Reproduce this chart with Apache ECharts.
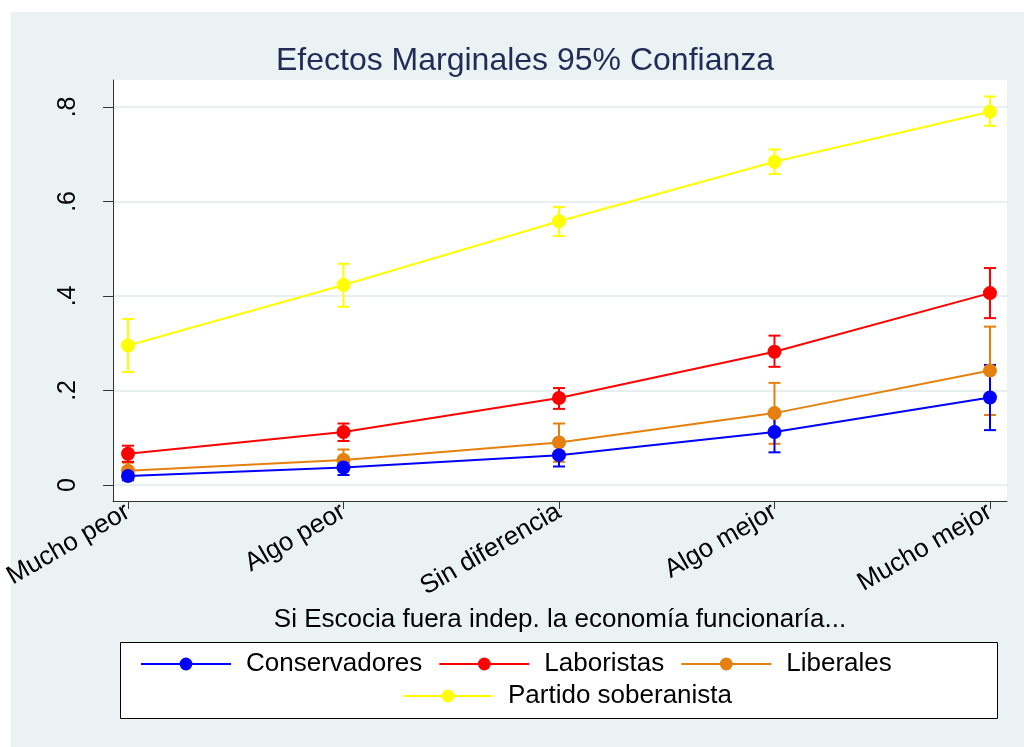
<!DOCTYPE html>
<html>
<head>
<meta charset="utf-8">
<script src="https://cdn.jsdelivr.net/npm/echarts@6/dist/echarts.min.js"></script>
<style>
html,body{margin:0;padding:0;background:#ffffff;}
#chart{width:1024px;height:747px;}
</style>
</head>
<body>
<div id="chart"></div>
<script>
const categories = ['Mucho peor', 'Algo peor', 'Sin diferencia', 'Algo mejor', 'Mucho mejor'];
const yTicks = [0, 0.2, 0.4, 0.6, 0.8];
const xTicks = [0, 1, 2, 3, 4];

const seriesNames = ['Conservadores', 'Laboristas', 'Liberales', 'Partido soberanista'];

const conservadores   = [0.019, 0.037, 0.063, 0.112, 0.185];
const conservadoresLo = [0.010, 0.021, 0.039, 0.069, 0.116];
const conservadoresHi = [0.028, 0.052, 0.087, 0.154, 0.254];

const laboristas   = [0.066, 0.112, 0.184, 0.282, 0.406];
const laboristasLo = [0.049, 0.093, 0.161, 0.250, 0.353];
const laboristasHi = [0.083, 0.130, 0.205, 0.316, 0.459];

const liberales   = [0.030, 0.053, 0.090, 0.152, 0.242];
const liberalesLo = [0.013, 0.032, 0.049, 0.087, 0.148];
const liberalesHi = [0.047, 0.075, 0.130, 0.216, 0.335];

const soberanista   = [0.295, 0.423, 0.558, 0.684, 0.790];
const soberanistaLo = [0.239, 0.377, 0.527, 0.658, 0.760];
const soberanistaHi = [0.351, 0.468, 0.588, 0.710, 0.822];

const colors = ['#0000ff', '#ff0000', '#e5800e', '#ffff00'];
const FONT = '"Liberation Sans", Arial, sans-serif';

const groups = [
  {name: seriesNames[0], v: conservadores, lo: conservadoresLo, hi: conservadoresHi, color: colors[0]},
  {name: seriesNames[1], v: laboristas, lo: laboristasLo, hi: laboristasHi, color: colors[1]},
  {name: seriesNames[2], v: liberales, lo: liberalesLo, hi: liberalesHi, color: colors[2]},
  {name: seriesNames[3], v: soberanista, lo: soberanistaLo, hi: soberanistaHi, color: colors[3]}
];

function errRender(color) {
  return function (params, api) {
    const x = api.value(0);
    const pLo = api.coord([x, api.value(1)]);
    const pHi = api.coord([x, api.value(2)]);
    const w = 6;
    const st = {stroke: color, lineWidth: 2};
    return {
      type: 'group',
      children: [
        {type: 'line', shape: {x1: pLo[0], y1: pLo[1], x2: pHi[0], y2: pHi[1]}, style: st},
        {type: 'line', shape: {x1: pLo[0] - w, y1: pLo[1], x2: pLo[0] + w, y2: pLo[1]}, style: st},
        {type: 'line', shape: {x1: pHi[0] - w, y1: pHi[1], x2: pHi[0] + w, y2: pHi[1]}, style: st}
      ]
    };
  };
}

const series = [];
groups.slice().reverse().forEach(g => {
  series.push({
    type: 'custom',
    name: g.name + ' IC',
    renderItem: errRender(g.color),
    data: g.lo.map((l, i) => [i, l, g.hi[i]]),
    encode: {x: 0, y: [1, 2]},
    silent: true,
    z: 2
  });
});
groups.slice().reverse().forEach(g => {
  series.push({
    type: 'line',
    name: g.name,
    data: g.v.map((v, i) => [i, v]),
    symbol: 'circle',
    symbolSize: 14,
    showSymbol: true,
    color: g.color,
    itemStyle: {color: g.color},
    lineStyle: {color: g.color, width: 2},
    z: 3,
    animation: false
  });
});

const chart = echarts.init(document.getElementById('chart'), null, {renderer: 'canvas'});

const legendCommon = {
  orient: 'horizontal',
  itemWidth: 90,
  itemHeight: 16,
  itemGap: 16,
  padding: 0,
  textStyle: {fontFamily: FONT, fontSize: 26, color: '#000', padding: [0, 0, 0, 10]},
  selectedMode: false
};

chart.setOption({
  animation: false,
  backgroundColor: '#ffffff',
  graphic: [
    {type: 'rect', z: -10, silent: true, shape: {x: 11, y: 12, width: 1013, height: 735}, style: {fill: '#eaf2f3'}},
    {type: 'text', z: 10, silent: true, style: {x: 525, y: 61, text: 'Efectos Marginales 95% Confianza', textAlign: 'center', textVerticalAlign: 'middle', fontFamily: FONT, fontSize: 32, fill: '#1e2c56'}},
    {type: 'rect', z: 1, silent: true, shape: {x: 120.5, y: 642.5, width: 877, height: 76}, style: {fill: '#ffffff', stroke: '#000000', lineWidth: 1}}
  ],
  legend: [
    Object.assign({}, legendCommon, {data: seriesNames.slice(0, 3), left: 140, top: 651, z: 5}),
    Object.assign({}, legendCommon, {data: seriesNames.slice(3), left: 402, top: 683, z: 5})
  ],
  grid: {
    left: 112, right: 17, top: 80, bottom: 246,
    show: true, backgroundColor: '#ffffff', borderWidth: 0,
    containLabel: false
  },
  xAxis: {
    type: 'value',
    min: -0.0695,
    max: 4.079,
    name: 'Si Escocia fuera indep. la economía funcionaría...',
    nameLocation: 'middle',
    nameGap: 96,
    nameTextStyle: {fontFamily: FONT, fontSize: 26, color: '#000'},
    axisLine: {show: true, onZero: false, lineStyle: {color: '#333', width: 1}},
    axisTick: {show: true, length: 8, customValues: xTicks, lineStyle: {color: '#333', width: 1}},
    axisLabel: {
      customValues: xTicks,
      rotate: 30,
      margin: 9,
      fontFamily: FONT, fontSize: 26, color: '#000',
      formatter: v => categories[Math.round(v)]
    },
    splitLine: {show: false}
  },
  yAxis: {
    type: 'value',
    min: -0.034,
    max: 0.857,
    axisLine: {show: true, onZero: false, lineStyle: {color: '#333', width: 1}},
    axisTick: {show: true, length: 10, customValues: yTicks, lineStyle: {color: '#333', width: 1}},
    axisLabel: {
      customValues: yTicks,
      rotate: 90,
      margin: 32,
      fontFamily: FONT, fontSize: 25, color: '#000',
      formatter: v => (Math.abs(v) < 1e-9 ? '0' : String(+v.toFixed(1)).replace(/^0\./, '.'))
    },
    splitLine: {show: true, lineStyle: {color: '#e8eff1', width: 2}}
  },
  series: series
});
</script>
</body>
</html>
